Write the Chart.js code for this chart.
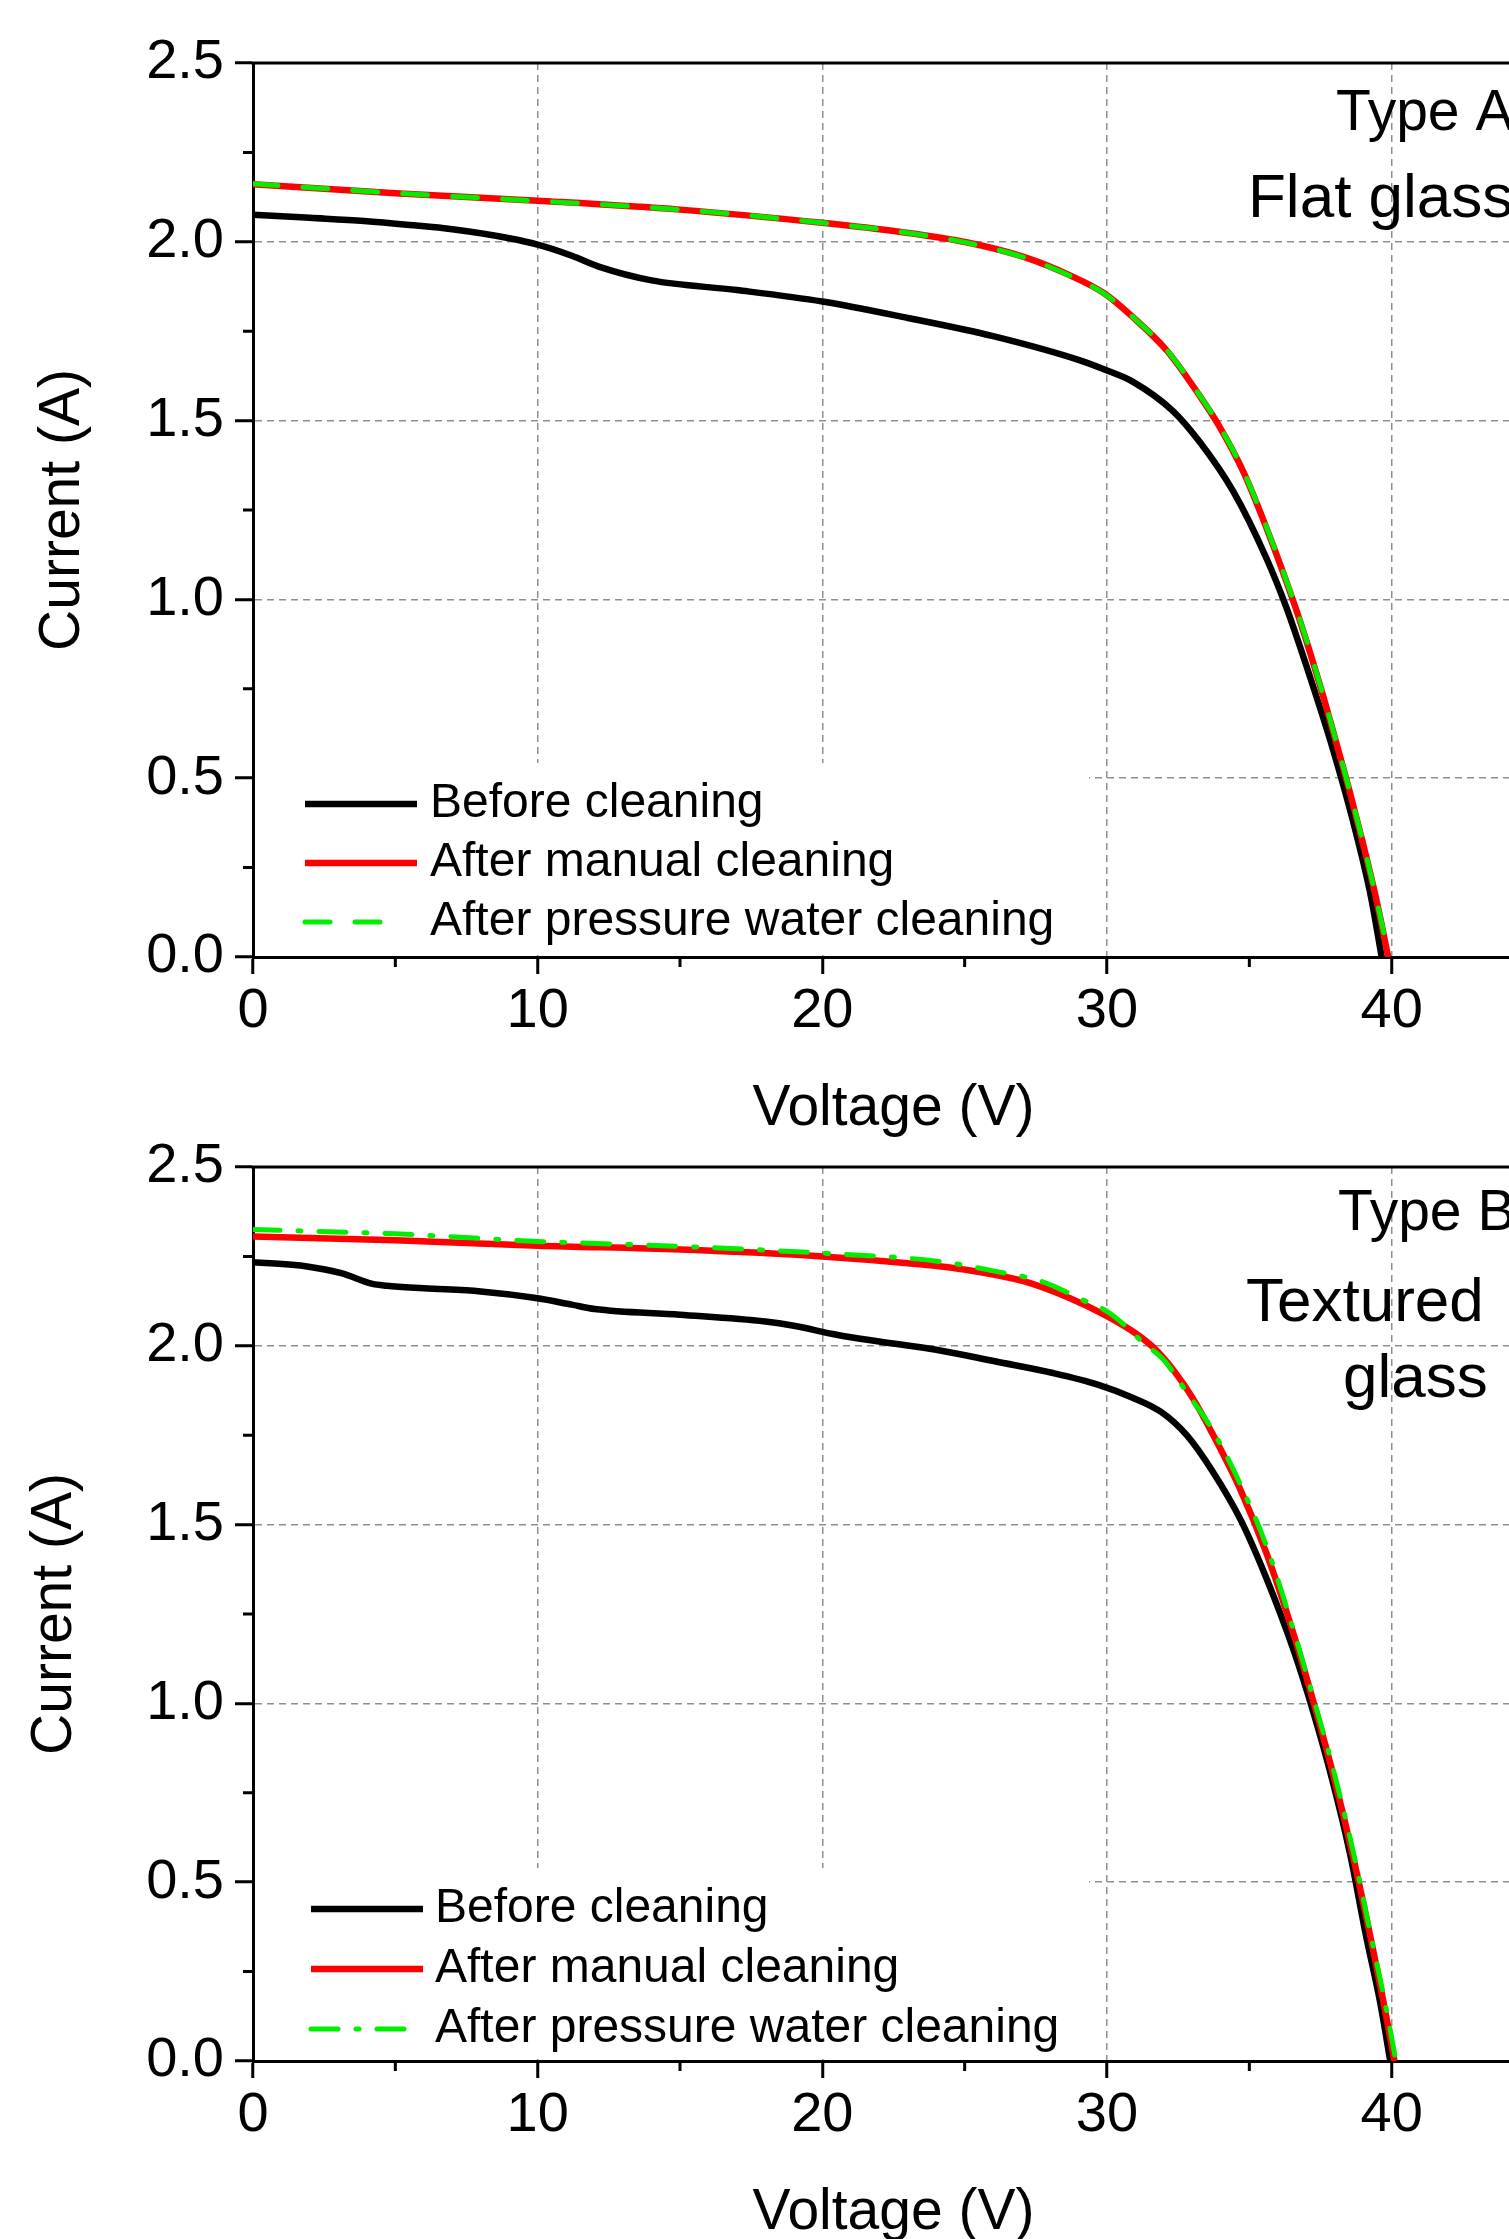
<!DOCTYPE html>
<html>
<head>
<meta charset="utf-8">
<title>I-V curves before and after cleaning</title>
<script src="https://cdn.jsdelivr.net/npm/chart.js"></script>
<style>
  html, body { margin: 0; padding: 0; background: #fff; overflow: hidden; width: 1509px; height: 2239px; }
  .panel { position: absolute; left: 0; width: 1560px; height: 1150px; }
  #panelA { top: 0; }
  #panelB { top: 1104px; }
</style>
</head>
<body>
<div class="panel" id="panelA"><canvas id="chartA" width="1560" height="1150"></canvas></div>
<div class="panel" id="panelB"><canvas id="chartB" width="1560" height="1150"></canvas></div>
<script>
// Axis ticks
const voltTicks = [0, 10, 20, 30, 40];
const voltMinor = [5, 15, 25, 35];
const currentTicks = [0, 0.5, 1.0, 1.5, 2.0, 2.5];
const currentMinor = [0.25, 0.75, 1.25, 1.75, 2.25];

const seriesLabels = ["Before cleaning", "After manual cleaning", "After pressure water cleaning"];

// Type A - flat glass
const beforeA_V = [0, 2, 3.9, 5.5, 7, 9, 10, 11.2, 12.2, 14, 17, 20, 23, 26, 29.1, 30, 30.9, 32.3, 33.26, 34.43, 35.6, 36.3, 37, 37.95, 38.65, 39.25, 39.65];
const beforeA_I = [2.076, 2.067, 2.058, 2.047, 2.035, 2.01, 1.992, 1.961, 1.929, 1.892, 1.865, 1.833, 1.787, 1.736, 1.667, 1.64, 1.609, 1.528, 1.44, 1.3025, 1.115, 0.9775, 0.815, 0.5775, 0.3775, 0.1775, 0];
const manualA_V = [0, 5, 10, 15, 20, 22.7, 25.1, 27.1, 28.7, 29.9, 30.9, 32.1, 33.25, 33.9, 34.8, 35.6, 36.3, 36.8, 37.5, 38.05, 38.55, 39, 39.45, 39.88];
const manualA_I = [2.161, 2.136, 2.115, 2.09, 2.053, 2.028, 1.998, 1.957, 1.906, 1.856, 1.79, 1.696, 1.57, 1.49, 1.355, 1.2, 1.05, 0.935, 0.755, 0.6, 0.455, 0.315, 0.165, 0];
const pressureA_V = [0, 5, 10, 15, 20, 22.7, 25.1, 27.1, 28.7, 29.9, 30.9, 32.1, 33.25, 33.9, 34.8, 35.6, 36.3, 36.8, 37.5, 38.05, 38.55, 39, 39.45, 39.9];
const pressureA_I = [2.162, 2.136, 2.114, 2.09, 2.053, 2.028, 1.997, 1.956, 1.905, 1.855, 1.79, 1.697, 1.571, 1.492, 1.357, 1.203, 1.053, 0.938, 0.758, 0.603, 0.458, 0.318, 0.168, 0];

// Type B - textured glass
const beforeB_V = [0, 1.9, 3.1, 4.2, 4.7, 6, 8, 10, 11.2, 12, 15, 18, 19, 20.5, 22, 24, 26.1, 28.1, 29.7, 30.9, 31.9, 32.8, 33.7, 34.7, 35.6, 36.55, 37.25, 37.95, 38.55, 39.1, 39.6, 39.95];
const beforeB_I = [2.234, 2.222, 2.203, 2.173, 2.168, 2.161, 2.152, 2.133, 2.115, 2.103, 2.087, 2.068, 2.056, 2.031, 2.012, 1.989, 1.956, 1.924, 1.891, 1.855, 1.815, 1.75, 1.65, 1.5125, 1.35, 1.15, 0.975, 0.775, 0.575, 0.35, 0.1625, 0];
const manualB_V = [0, 5, 10, 15, 20, 23, 25, 27.1, 28.7, 29.9, 31, 31.7, 32.4, 33, 33.7, 34.7, 35.6, 36.55, 37.25, 37.95, 38.65, 39.35, 39.7, 40.1];
const manualB_I = [2.306, 2.295, 2.28, 2.269, 2.25, 2.231, 2.213, 2.18, 2.133, 2.087, 2.035, 1.99, 1.925, 1.855, 1.755, 1.595, 1.42, 1.195, 1.005, 0.8, 0.57, 0.31, 0.17, 0];
const pressureB_V = [0, 5, 10, 15, 20, 24.1, 26.1, 27.7, 29.1, 30.1, 31.3, 32, 32.8, 33.7, 34.7, 35.6, 36.55, 37.25, 37.95, 38.65, 39.35, 39.75, 40.15];
const pressureB_I = [2.325, 2.313, 2.292, 2.278, 2.259, 2.236, 2.208, 2.18, 2.13, 2.091, 2.007, 1.96, 1.87, 1.765, 1.61, 1.44, 1.205, 1.015, 0.815, 0.585, 0.32, 0.17, 0];

const FONT = "'Liberation Sans', Arial, sans-serif";
const GRID = "#8f8f8f";

// Minor ticks, top frame line, legend box and panel labels
const decorPlugin = {
  id: "decor",
  beforeDatasetsDraw(chart, args, opts) {
    const a = chart.chartArea;
    const c = chart.ctx;
    // white legend box hides the grid behind the legend
    c.save();
    c.fillStyle = "#fff";
    c.fillRect(a.left + 2, a.top + opts.legendTop, opts.legendRight - a.left - 2, a.bottom - a.top - opts.legendTop - 2);
    c.restore();
  },
  afterDraw(chart, args, opts) {
    const a = chart.chartArea;
    const c = chart.ctx;
    const xs = chart.scales.x, ys = chart.scales.y;
    c.save();
    c.strokeStyle = "#000";
    c.lineWidth = 3;
    c.beginPath();
    c.moveTo(a.left - 1.5, a.top);
    c.lineTo(a.right, a.top);
    voltMinor.forEach(v => {
      const px = xs.getPixelForValue(v);
      c.moveTo(px, a.bottom);
      c.lineTo(px, a.bottom + 10);
    });
    currentMinor.forEach(v => {
      const py = ys.getPixelForValue(v);
      c.moveTo(a.left, py);
      c.lineTo(a.left - 10, py);
    });
    c.stroke();

    // legend
    c.font = "48px " + FONT;
    c.textBaseline = "middle";
    c.textAlign = "left";
    chart.data.datasets.forEach((ds, i) => {
      const y = a.top + opts.legendRows[i];
      c.strokeStyle = ds.borderColor;
      c.lineWidth = ds.borderWidth;
      c.lineCap = ds.borderCapStyle;
      c.setLineDash(ds.borderDash);
      c.beginPath();
      c.moveTo(opts.legendX1, y);
      c.lineTo(ds.borderDash.length ? opts.legendDashEnd : opts.legendX2, y);
      c.stroke();
      c.setLineDash([]);
      c.fillStyle = "#000";
      c.fillText(ds.label, opts.legendText, y);
    });

    // panel labels
    c.textBaseline = "alphabetic";
    opts.notes.forEach(n => {
      c.font = n.size + "px " + FONT;
      c.fillText(n.text, n.x, a.top + n.dy);
    });
    c.restore();
  }
};

function toPoints(vs, is) {
  return vs.map((v, k) => ({ x: v, y: is[k] }));
}

function makeChart(id, curves, greenDash, yTitlePad, legendOpts, notes) {
  const styles = [
    { color: "#000000", width: 6.5, dash: [], cap: "butt", order: 3 },
    { color: "#ff0000", width: 6.5, dash: [], cap: "butt", order: 2 },
    { color: "#00ee00", width: 5, dash: greenDash, cap: "round", order: 1 }
  ];
  const datasets = curves.map((cv, i) => ({
    label: seriesLabels[i],
    data: toPoints(cv[0], cv[1]),
    borderColor: styles[i].color,
    borderWidth: styles[i].width,
    borderDash: styles[i].dash,
    borderCapStyle: styles[i].cap,
    borderJoinStyle: "round",
    order: styles[i].order,
    pointRadius: 0,
    fill: false,
    cubicInterpolationMode: "monotone"
  }));

  return new Chart(document.getElementById(id).getContext("2d"), {
    type: "line",
    data: { datasets: datasets },
    plugins: [decorPlugin],
    options: {
      responsive: false,
      animation: false,
      layout: { padding: { top: 63, right: 26, bottom: 0, left: 0 } },
      plugins: {
        legend: { display: false },
        tooltip: { enabled: false },
        decor: Object.assign({ notes: notes }, legendOpts)
      },
      scales: {
        x: {
          type: "linear",
          min: 0,
          max: 45,
          afterBuildTicks: s => { s.ticks = voltTicks.map(v => ({ value: v })); },
          afterFit: s => { s.height = 193; },
          ticks: { font: { size: 56, family: FONT }, color: "#000", padding: 4, maxRotation: 0 },
          grid: {
            color: c => (c.tick && c.tick.value === 0 ? "rgba(0,0,0,0)" : GRID),
            lineWidth: 1.5,
            tickColor: "#000",
            tickWidth: 3,
            tickLength: 17
          },
          border: { color: "#000", width: 3, dash: [7, 5] },
          title: { display: true, text: "Voltage (V)", color: "#000", font: { size: 57, family: FONT }, padding: { top: 0, bottom: 7 } }
        },
        y: {
          type: "linear",
          min: 0,
          max: 2.5,
          afterBuildTicks: s => { s.ticks = currentTicks.map(v => ({ value: v })); },
          afterFit: s => { s.width = 253; },
          ticks: { font: { size: 56, family: FONT }, color: "#000", padding: 11, callback: v => v.toFixed(1) },
          grid: {
            color: c => (c.tick && (c.tick.value === 0 || c.tick.value === 2.5) ? "rgba(0,0,0,0)" : GRID),
            lineWidth: 1.5,
            tickColor: "#000",
            tickWidth: 3,
            tickLength: 18
          },
          border: { color: "#000", width: 3, dash: [7, 5] },
          title: { display: true, text: "Current (A)", color: "#000", font: { size: 57, family: FONT }, padding: { top: yTitlePad, bottom: 0 } }
        }
      }
    }
  });
}

makeChart("chartA",
  [[beforeA_V, beforeA_I], [manualA_V, manualA_I], [pressureA_V, pressureA_I]],
  [25, 25], 29,
  { legendTop: 700, legendRight: 1089, legendRows: [741, 800, 859], legendX1: 305, legendX2: 417, legendDashEnd: 386, legendText: 430 },
  [{ text: "Type A", x: 1336, dy: 67, size: 57 }, { text: "Flat glass", x: 1248, dy: 154, size: 62 }]
);

makeChart("chartB",
  [[beforeB_V, beforeB_I], [manualB_V, manualB_I], [pressureB_V, pressureB_I]],
  [27, 18, 3, 18], 21,
  { legendTop: 701, legendRight: 1089, legendRows: [742, 802, 862], legendX1: 311, legendX2: 423, legendDashEnd: 416, legendText: 435 },
  [{ text: "Type B", x: 1338, dy: 63, size: 57 }, { text: "Textured", x: 1246, dy: 154, size: 62 }, { text: "glass", x: 1343, dy: 230, size: 62 }]
);
</script>
</body>
</html>
